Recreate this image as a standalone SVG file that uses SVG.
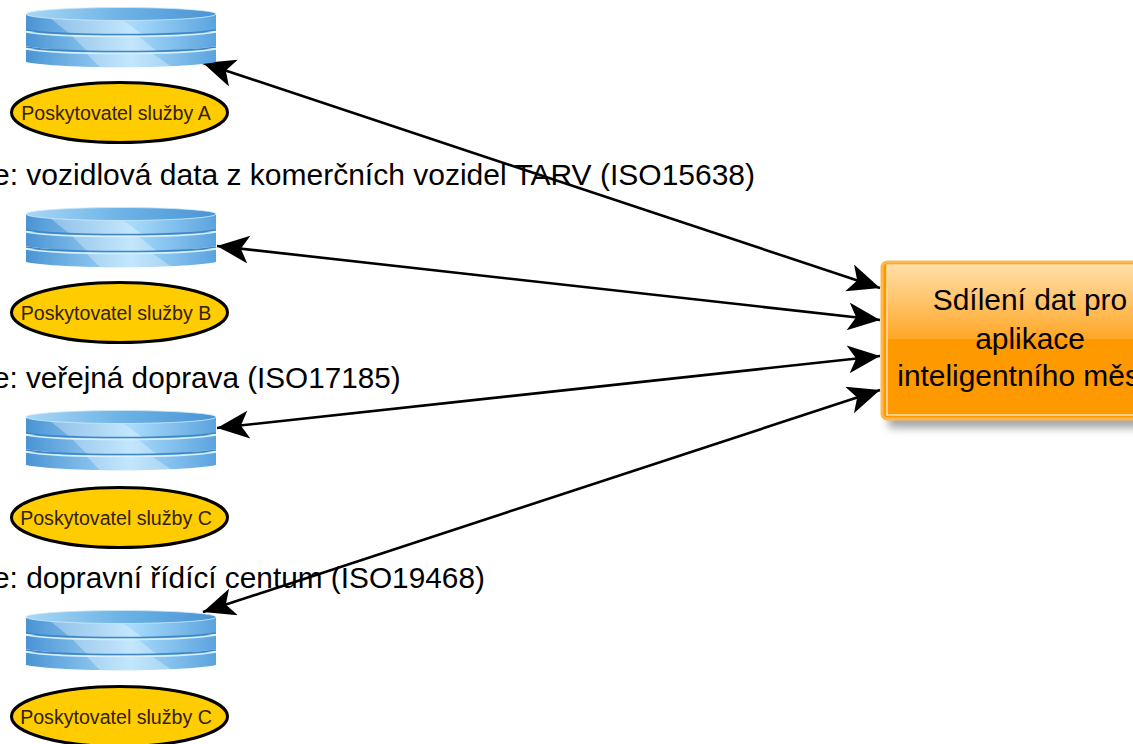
<svg xmlns="http://www.w3.org/2000/svg" width="1133" height="744" viewBox="0 0 1133 744">
<style>
.lbl{font-family:"Liberation Sans",Arial,sans-serif;font-size:30px;fill:#000}
.small{font-family:"Liberation Sans",Arial,sans-serif;font-size:19.6px;fill:#332200;text-anchor:middle}
.big{font-family:"Liberation Sans",Arial,sans-serif;font-size:29.9px;fill:#000;text-anchor:middle}
.ell{fill:#ffcc00;stroke:#000;stroke-width:3}
.conn{fill:none;stroke:#000;stroke-width:2.6;marker-start:url(#ah);marker-end:url(#ah)}
</style>
<defs>
<marker id="ah" markerUnits="userSpaceOnUse" markerWidth="36" markerHeight="30" refX="33" refY="14" orient="auto-start-reverse" viewBox="0 0 36 30">
<path d="M33,14 L1,0 L9,14 L1,28 Z" fill="#000"/>
</marker>
<linearGradient id="bl" x1="0" x2="1" y1="0" y2="0">
<stop offset="0" stop-color="#4a94d4"/><stop offset=".55" stop-color="#a9dcfc"/><stop offset="1" stop-color="#5ba3de"/>
</linearGradient>
<linearGradient id="top" x1="0" x2="1" y1="0" y2="0">
<stop offset="0" stop-color="#a8d8f5"/><stop offset=".5" stop-color="#6db3e6"/><stop offset="1" stop-color="#4a94d4"/>
</linearGradient>
<linearGradient id="box" x1="0" x2="0" y1="0" y2="1">
<stop offset="0" stop-color="#ffdfa8"/><stop offset="1" stop-color="#ffa726"/>
</linearGradient>
<filter id="sh" x="-10%" y="-10%" width="125%" height="130%"><feGaussianBlur stdDeviation="4"/></filter>
<g id="disk">
<path d="M26,49 V62 C60,69 182,69 216,62 V49 Z" fill="url(#bl)"/>
<path d="M85,52 L100,67 H172 L150,52 Z" fill="#fff" opacity=".3"/>
<path d="M26,49 C60,55 182,55 216,49" fill="none" stroke="#d8effc" stroke-width="1.6"/>
<path d="M26,32 V46 C60,53 182,53 216,46 V32 Z" fill="url(#bl)"/>
<path d="M70,34 L88,52 H158 L135,34 Z" fill="#fff" opacity=".3"/>
<path d="M26,47 C60,53 182,53 216,47" fill="none" stroke="#3f86c6" stroke-width="1.5"/>
<path d="M26,32 C60,38 182,38 216,32" fill="none" stroke="#d8effc" stroke-width="1.6"/>
<path d="M26,15 V30 C60,36 182,36 216,30 V15 Z" fill="url(#bl)"/>
<path d="M50,18 L70,34 H142 L120,18 Z" fill="#fff" opacity=".3"/>
<path d="M26,30 C60,36 182,36 216,30" fill="none" stroke="#3f86c6" stroke-width="1.5"/>
<ellipse cx="121" cy="14" rx="95" ry="6.500" fill="url(#top)" stroke="#cfeafb" stroke-width=".8"/>
</g>
</defs>

<g id="connectors">
<line class="conn" x1="203" y1="63" x2="880" y2="288"/>
<line class="conn" x1="217" y1="246" x2="880" y2="320"/>
<line class="conn" x1="217" y1="428" x2="880" y2="356"/>
<line class="conn" x1="203" y1="612" x2="880" y2="390"/>
</g>

<g id="label-a"><text class="lbl" x="-7" y="185">e: vozidlová data z komerčních vozidel TARV (ISO15638)</text></g>
<g id="label-b"><text class="lbl" x="-7" y="388" style="font-size:29.7px">e: veřejná doprava (ISO17185)</text></g>
<g id="label-c"><text class="lbl" x="-7" y="588" style="font-size:29.8px">e: dopravní řídící centum (ISO19468)</text></g>

<g id="disk-a"><use href="#disk"/></g>
<g id="disk-b"><use href="#disk" y="200"/></g>
<g id="disk-c"><use href="#disk" y="403"/></g>
<g id="disk-d"><use href="#disk" y="603"/></g>

<g id="provider-a"><ellipse class="ell" cx="119.500" cy="112.500" rx="108" ry="30"/><text class="small" x="116" y="120">Poskytovatel služby A</text></g>
<g id="provider-b"><ellipse class="ell" cx="119.500" cy="312.500" rx="108" ry="30"/><text class="small" x="116" y="320">Poskytovatel služby B</text></g>
<g id="provider-c"><ellipse class="ell" cx="119.500" cy="517.500" rx="108" ry="30"/><text class="small" x="116" y="525">Poskytovatel služby C</text></g>
<g id="provider-d"><ellipse class="ell" cx="119.500" cy="716.500" rx="108" ry="30"/><text class="small" x="116" y="724">Poskytovatel služby C</text></g>

<g id="sharing">
<rect x="888" y="270" width="260" height="158" rx="4" fill="#000" opacity=".35" filter="url(#sh)"/>
<rect x="882" y="262" width="270" height="157" rx="5" fill="#ff9900" stroke="#ffb84d" stroke-width="3"/>
<rect x="887" y="265" width="260" height="74" fill="url(#box)"/>
<rect x="887" y="265" width="260" height="150" fill="none" stroke="#ffe0b0" stroke-width="1.5"/>
<text class="big" x="1030" y="310">Sdílení dat pro</text>
<text class="big" x="1030" y="349">aplikace</text>
<text class="big" x="1031" y="386">inteligentního města</text>
</g>
</svg>
